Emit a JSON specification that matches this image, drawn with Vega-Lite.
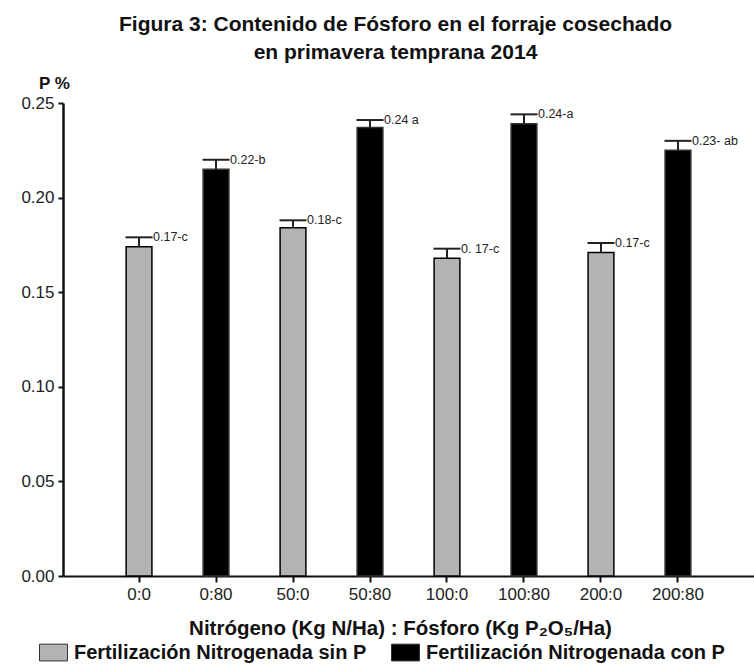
{
  "$schema": "https://vega.github.io/schema/vega-lite/v6.json",
  "autosize": {"type": "none"},
  "padding": {"left": 63, "top": 103, "right": 0, "bottom": 89},
  "width": 691,
  "height": 473,
  "background": "white",
  "title": {
    "text": ["Figura 3: Contenido de Fósforo en el forraje cosechado", "en primavera temprana 2014"],
    "font": "Liberation Sans",
    "fontSize": 21,
    "fontWeight": "bold",
    "color": "#111",
    "lineHeight": 28,
    "anchor": "middle",
    "frame": "group",
    "dx": -13,
    "offset": 11
  },
  "data": {
    "values": [
      {"trat": "0:0", "grupo": "Fertilización Nitrogenada sin P", "P": 0.174, "err": 0.179, "etiqueta": "0.17-c"},
      {"trat": "0:80", "grupo": "Fertilización Nitrogenada con P", "P": 0.215, "err": 0.220, "etiqueta": "0.22-b"},
      {"trat": "50:0", "grupo": "Fertilización Nitrogenada sin P", "P": 0.184, "err": 0.188, "etiqueta": "0.18-c"},
      {"trat": "50:80", "grupo": "Fertilización Nitrogenada con P", "P": 0.237, "err": 0.241, "etiqueta": "0.24 a"},
      {"trat": "100:0", "grupo": "Fertilización Nitrogenada sin P", "P": 0.168, "err": 0.173, "etiqueta": "0. 17-c"},
      {"trat": "100:80", "grupo": "Fertilización Nitrogenada con P", "P": 0.239, "err": 0.244, "etiqueta": "0.24-a"},
      {"trat": "200:0", "grupo": "Fertilización Nitrogenada sin P", "P": 0.171, "err": 0.176, "etiqueta": "0.17-c"},
      {"trat": "200:80", "grupo": "Fertilización Nitrogenada con P", "P": 0.225, "err": 0.230, "etiqueta": "0.23- ab"}
    ]
  },
  "encoding": {
    "x": {
      "field": "trat",
      "type": "nominal",
      "sort": null,
      "scale": {"paddingInner": 0.665, "paddingOuter": 0.82},
      "title": "Nitrógeno (Kg N/Ha) : Fósforo (Kg P₂O₅/Ha)",
      "axis": {
        "labelAngle": 0,
        "labelFont": "Liberation Sans",
        "labelFontSize": 17,
        "labelColor": "#222",
        "labelPadding": 4,
        "tickSize": 6,
        "tickWidth": 2,
        "tickColor": "#111",
        "domainColor": "#111",
        "domainWidth": 2,
        "titleFont": "Liberation Sans",
        "titleFontSize": 20.5,
        "titleFontWeight": "bold",
        "titleColor": "#111",
        "titleX": 337,
        "titleY": 52,
        "titleBaseline": "middle",
        "grid": false
      }
    }
  },
  "layer": [
    {
      "mark": {"type": "bar", "strokeWidth": 1.5},
      "encoding": {
        "y": {
          "field": "P",
          "type": "quantitative",
          "scale": {"domain": [0, 0.25], "nice": false},
          "title": "P %",
          "axis": {
            "values": [0, 0.05, 0.1, 0.15, 0.2, 0.25],
            "format": ".2f",
            "labelFont": "Liberation Sans",
            "labelFontSize": 17,
            "labelColor": "#222",
            "labelPadding": 4,
            "tickSize": 5,
            "tickWidth": 2,
            "tickColor": "#111",
            "domainColor": "#111",
            "domainWidth": 2.5,
            "grid": false,
            "titleAngle": 0,
            "titleFont": "Liberation Sans",
            "titleFontSize": 17,
            "titleFontWeight": "bold",
            "titleColor": "#111",
            "titleX": -9,
            "titleY": -20,
            "titleAlign": "center",
            "titleBaseline": "middle"
          }
        },
        "color": {
          "field": "grupo",
          "type": "nominal",
          "sort": null,
          "scale": {
            "domain": ["Fertilización Nitrogenada sin P", "Fertilización Nitrogenada con P"],
            "range": ["#b3b3b3", "#000000"]
          },
          "legend": {
            "title": null,
            "orient": "none",
            "direction": "horizontal",
            "legendX": -24,
            "legendY": 535,
            "symbolType": "M-1,-0.6H1V0.6H-1Z",
            "symbolSize": 784,
            "symbolStrokeColor": "#333",
            "symbolStrokeWidth": 1,
            "symbolOpacity": 1,
            "labelFont": "Liberation Sans",
            "labelFontSize": 20,
            "labelFontWeight": "bold",
            "labelColor": "#111",
            "labelOffset": 6,
            "labelLimit": 400,
            "columnPadding": 22
          }
        },
        "stroke": {
          "field": "grupo",
          "type": "nominal",
          "scale": {"range": ["#333333", "#000000"]},
          "legend": null
        }
      }
    },
    {
      "mark": {"type": "rule", "color": "#222", "strokeWidth": 2},
      "encoding": {
        "y": {"field": "P", "type": "quantitative"},
        "y2": {"field": "err"}
      }
    },
    {
      "mark": {"type": "tick", "orient": "horizontal", "color": "#222", "thickness": 2, "size": 27, "opacity": 1},
      "encoding": {
        "y": {"field": "err", "type": "quantitative"}
      }
    },
    {
      "mark": {"type": "text", "align": "left", "baseline": "middle", "dx": 14, "font": "Liberation Sans", "fontSize": 12.5, "color": "#222"},
      "encoding": {
        "y": {"field": "err", "type": "quantitative"},
        "text": {"field": "etiqueta"}
      }
    }
  ],
  "config": {
    "view": {"stroke": null}
  }
}
